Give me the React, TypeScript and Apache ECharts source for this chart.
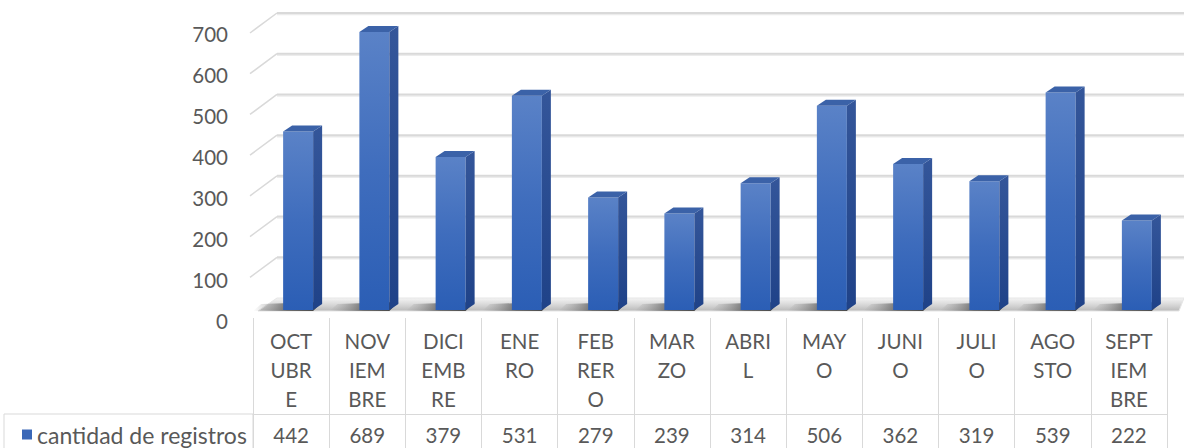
import { useEffect, useRef } from "react";
import * as echarts from "echarts";

// Month names, wrapped the way the data-table header breaks them
const monthLabels = [
  "OCT\nUBR\nE",
  "NOV\nIEM\nBRE",
  "DICI\nEMB\nRE",
  "ENE\nRO",
  "FEB\nRER\nO",
  "MAR\nZO",
  "ABRI\nL",
  "MAY\nO",
  "JUNI\nO",
  "JULI\nO",
  "AGO\nSTO",
  "SEPT\nIEM\nBRE",
];
const registros = [442, 689, 379, 531, 279, 239, 314, 506, 362, 319, 539, 222];
const seriesName = "cantidad de registros";
const yTicks = [0, 100, 200, 300, 400, 500, 600, 700];

const FONT = "Lato";
const TEXT = "#595959";
const GRID_LINE = "#d9d9d9";

export default function App() {
  const ref = useRef<HTMLDivElement>(null);

  useEffect(() => {
    document.body.style.margin = "0";
    if (!ref.current) return;
    const chart = echarts.init(ref.current, undefined, { renderer: "svg" });

    // depth offset of the 3D columns and of the side wall
    const barHalf = 15;
    const depthX = 9;
    const depthY = 6;
    const wallX = 27;
    const wallY = 20;

    const option: any = {
      animation: false,
      backgroundColor: "#ffffff",
      textStyle: { fontFamily: FONT },
      legend: {
        data: [seriesName],
        left: 22,
        top: 423,
        padding: 0,
        icon: "rect",
        itemWidth: 10,
        itemHeight: 10,
        selectedMode: false,
        textStyle: { fontFamily: FONT, fontSize: 23, color: TEXT, lineHeight: 22 },
      },
      grid: [
        // back wall
        { left: 277, right: 0, top: 13, bottom: 150 },
        // columns (front faces)
        { left: 260, right: 9, top: 27.5, bottom: 138 },
        // value labels on the front edge
        { left: 250, right: 0, top: 34, bottom: 127 },
        // data table header
        { left: 253, right: 17, top: 318, bottom: 34 },
        // data table values
        { left: 253, right: 17, top: 414, bottom: 0 },
      ],
      xAxis: [
        { type: "value", gridIndex: 0, min: 0, max: 1, show: false },
        { type: "category", gridIndex: 1, data: monthLabels, show: false },
        { type: "value", gridIndex: 2, min: 0, max: 1, show: false },
        {
          type: "category",
          gridIndex: 3,
          data: monthLabels,
          position: "top",
          axisLine: { show: true, lineStyle: { color: GRID_LINE, width: 1 } },
          axisTick: { show: false },
          splitLine: { show: true, interval: 0, lineStyle: { color: GRID_LINE, width: 1 } },
          axisLabel: {
            inside: true,
            interval: 0,
            margin: 8,
            verticalAlign: "top",
            lineHeight: 29,
            fontFamily: FONT,
            fontSize: 20.5,
            color: TEXT,
          },
        },
        {
          type: "category",
          gridIndex: 4,
          data: registros.map((v) => String(v)),
          position: "top",
          axisLine: { show: true, lineStyle: { color: GRID_LINE, width: 1 } },
          axisTick: { show: false },
          splitLine: { show: true, interval: 0, lineStyle: { color: GRID_LINE, width: 1 } },
          axisLabel: {
            inside: true,
            interval: 0,
            margin: 21,
            verticalAlign: "middle",
            fontFamily: FONT,
            fontSize: 20.5,
            color: TEXT,
          },
        },
      ],
      yAxis: [
        { type: "value", gridIndex: 0, min: 0, max: 700, interval: 100, show: false },
        { type: "value", gridIndex: 1, min: 0, max: 700, interval: 100, show: false },
        {
          type: "value",
          gridIndex: 2,
          min: 0,
          max: 700,
          interval: 100,
          axisLine: { show: false },
          axisTick: { show: false },
          splitLine: { show: false },
          axisLabel: { margin: 22, fontFamily: FONT, fontSize: 20.5, color: TEXT },
        },
        { type: "value", gridIndex: 3, show: false },
        { type: "value", gridIndex: 4, show: false },
      ],
      graphic: [
        {
          type: "rect",
          shape: { x: 4, y: 414, width: 249, height: 40 },
          style: { fill: "none", stroke: GRID_LINE, lineWidth: 1 },
          silent: true,
        },
      ],
      series: [
        {
          // back-wall gridlines, side-wall diagonals and the floor
          type: "custom",
          xAxisIndex: 0,
          yAxisIndex: 0,
          silent: true,
          z: 1,
          data: yTicks.map((v) => [0, v]),
          renderItem: (_params: any, api: any) => {
            const v = api.value(1);
            const p = api.coord([0, v]);
            const w = api.getWidth();
            const children: any[] = [];
            if (v === 0) {
              children.push({
                type: "polygon",
                shape: {
                  points: [
                    [p[0], p[1]],
                    [w, p[1]],
                    [w - 5, p[1] + 13],
                    [p[0] - 19, p[1] + 13],
                  ],
                },
                style: {
                  fill: {
                    type: "linear",
                    x: 0,
                    y: 0,
                    x2: 0,
                    y2: 1,
                    colorStops: [
                      { offset: 0, color: "#f4f4f4" },
                      { offset: 0.55, color: "#d6d6d6" },
                      { offset: 1, color: "#b9b9b9" },
                    ],
                  },
                  stroke: "#e6e6e6",
                  lineWidth: 1,
                },
              });
            } else {
              children.push(
                {
                  // soft shade under each gridline
                  type: "line",
                  shape: { x1: p[0], y1: p[1] + 1.5, x2: w, y2: p[1] + 1.5 },
                  style: { stroke: "#ececec", lineWidth: 1.5 },
                },
                {
                  type: "line",
                  shape: { x1: p[0], y1: p[1], x2: w, y2: p[1] },
                  style: { stroke: GRID_LINE, lineWidth: 2 },
                },
                {
                  type: "line",
                  shape: { x1: p[0] - wallX, y1: p[1] + wallY, x2: p[0], y2: p[1] },
                  style: { stroke: GRID_LINE, lineWidth: 1.5 },
                }
              );
            }
            return { type: "group", children };
          },
        },
        {
          name: seriesName,
          type: "custom",
          xAxisIndex: 1,
          yAxisIndex: 1,
          z: 3,
          itemStyle: { color: "#3a67b7" },
          encode: { x: 0, y: 1 },
          data: registros.map((v, i) => [i, v]),
          renderItem: (_params: any, api: any) => {
            const idx = api.value(0);
            const top = api.coord([idx, api.value(1)]);
            const base = api.coord([idx, 0]);
            const x = top[0];
            const yT = top[1];
            const yB = base[1];
            return {
              type: "group",
              children: [
                {
                  // cast shadow on the floor
                  type: "polygon",
                  shape: {
                    points: [
                      [x + barHalf + depthX, yB - depthY - 2],
                      [x - barHalf - 22, yB - depthY],
                      [x - barHalf - 30, yB + 1],
                      [x + barHalf, yB + 1],
                    ],
                  },
                  style: {
                    fill: {
                      type: "linear",
                      x: 1,
                      y: 0,
                      x2: 0,
                      y2: 0,
                      colorStops: [
                        { offset: 0, color: "rgba(50,50,50,0.95)" },
                        { offset: 0.5, color: "rgba(80,80,80,0.75)" },
                        { offset: 1, color: "rgba(140,140,140,0)" },
                      ],
                    },
                  },
                },
                {
                  type: "rect",
                  shape: { x: x - barHalf, y: yT, width: barHalf * 2, height: yB - yT },
                  style: {
                    fill: {
                      type: "linear",
                      x: 0,
                      y: 0,
                      x2: 0,
                      y2: 1,
                      colorStops: [
                        { offset: 0, color: "#5a82c7" },
                        { offset: 0.5, color: "#3f6dbd" },
                        { offset: 1, color: "#2b5eb5" },
                      ],
                    },
                  },
                },
                {
                  type: "polygon",
                  shape: {
                    points: [
                      [x + barHalf, yT],
                      [x + barHalf + depthX, yT - depthY],
                      [x + barHalf + depthX, yB - depthY],
                      [x + barHalf, yB],
                    ],
                  },
                  style: {
                    fill: {
                      type: "linear",
                      x: 0,
                      y: 0,
                      x2: 0,
                      y2: 1,
                      colorStops: [
                        { offset: 0, color: "#34569a" },
                        { offset: 1, color: "#1f4288" },
                      ],
                    },
                  },
                },
                {
                  type: "polygon",
                  shape: {
                    points: [
                      [x - barHalf, yT],
                      [x - barHalf + depthX, yT - depthY],
                      [x + barHalf + depthX, yT - depthY],
                      [x + barHalf, yT],
                    ],
                  },
                  style: { fill: "#3b62a8" },
                },
              ],
            };
          },
        },
      ],
    };

    chart.setOption(option);
    return () => chart.dispose();
  }, []);

  return <div ref={ref} style={{ width: 1184, height: 448 }} />;
}
